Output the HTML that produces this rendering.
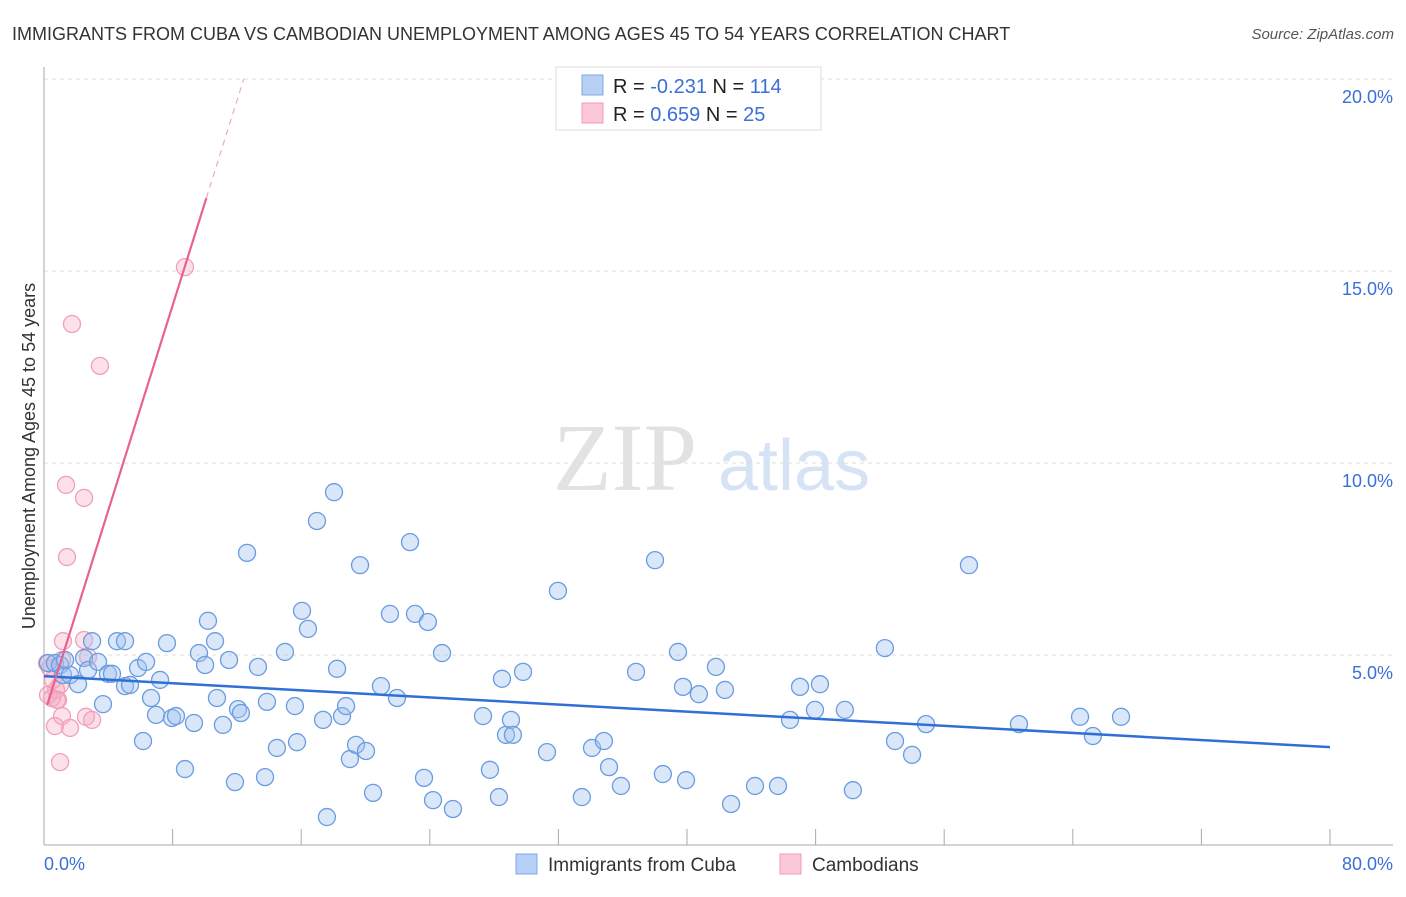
<!DOCTYPE html>
<html><head><meta charset="utf-8">
<style>
body{margin:0;background:#fff;font-family:"Liberation Sans",sans-serif;}
svg text{font-family:"Liberation Sans",sans-serif;}
</style></head>
<body>
<svg id="chart" width="1406" height="892" viewBox="0 0 1406 892" xmlns="http://www.w3.org/2000/svg">
<text x="12" y="40" font-size="18" fill="#333">IMMIGRANTS FROM CUBA VS CAMBODIAN UNEMPLOYMENT AMONG AGES 45 TO 54 YEARS CORRELATION CHART</text>
<text x="1394" y="39" font-size="15" fill="#555" font-style="italic" text-anchor="end">Source: ZipAtlas.com</text>
<g>
<text x="553" y="490" font-size="96" fill="#e2e2e2" font-family="Liberation Serif" style="font-family:'Liberation Serif',serif">ZIP</text>
<text x="718" y="490" font-size="72" fill="#d6e3f5">atlas</text>
</g>
<g id="grid"></g>
<g id="axes"></g>
<g id="pinkpts"></g>
<g id="bluepts"></g>
<g id="lines"></g>
<text transform="translate(35,456) rotate(-90)" font-size="18" fill="#333" text-anchor="middle">Unemployment Among Ages 45 to 54 years</text>
<g>
<rect x="556" y="67" width="265" height="63" fill="#fff" stroke="#ddd"/>
<rect x="582" y="75" width="21" height="20" fill="#b7d1f5" stroke="#7fa8e6"/>
<rect x="582" y="103" width="21" height="20" fill="#fbc8d8" stroke="#f09ab6"/>
<text x="613" y="93" font-size="20" fill="#222">R = <tspan fill="#3a6fd8">-0.231</tspan>   N = <tspan fill="#3a6fd8">114</tspan></text>
<text x="613" y="121" font-size="20" fill="#222">R =  <tspan fill="#3a6fd8">0.659</tspan>   N =  <tspan fill="#3a6fd8">25</tspan></text>
</g>
<g>
<rect x="516" y="854" width="21" height="20" fill="#b7d1f5" stroke="#7fa8e6"/>
<text x="548" y="871" font-size="19" fill="#333">Immigrants from Cuba</text>
<rect x="780" y="854" width="21" height="20" fill="#fbc8d8" stroke="#f09ab6"/>
<text x="812" y="871" font-size="19" fill="#333">Cambodians</text>
</g>
</svg>
<script>
const xTicks=[0,8,16,24,32,40,48,56,64,72,80];
const yTicks=[5,10,15,20];
const yTickLabels=["5.0%","10.0%","15.0%","20.0%"];
const xEndLabels=["0.0%","80.0%"];
const cubaX=[0.25,0.68,1.0,1.18,1.62,1.31,2.12,2.49,2.74,2.99,3.36,3.67,3.98,4.23,4.54,5.04,5.04,5.35,5.85,6.16,6.35,6.66,6.97,7.22,7.65,7.96,8.21,8.77,9.33,9.64,10.02,10.2,10.64,10.76,11.13,11.51,11.88,12.07,12.25,12.63,13.31,13.75,13.87,14.49,14.99,15.61,15.74,16.05,16.42,16.98,17.36,17.6,18.04,18.23,18.54,18.79,19.03,19.41,19.66,20.03,20.47,20.96,21.52,21.96,22.77,23.08,23.64,23.88,24.2,24.76,25.44,27.31,27.74,28.3,28.49,28.74,29.05,29.17,29.8,31.29,31.97,33.46,34.09,34.83,35.15,35.89,36.83,38.01,38.5,39.44,39.75,39.94,40.74,41.8,42.36,42.74,44.23,45.66,46.41,47.03,47.96,48.27,49.82,50.32,52.31,52.94,54.0,54.87,57.54,60.65,64.45,65.25,67.0];
const cubaY=[4.79,4.79,4.74,4.48,4.48,4.87,4.24,4.92,4.61,5.36,4.82,3.72,4.51,4.51,5.36,5.36,4.19,4.22,4.66,2.76,4.82,3.88,3.44,4.35,5.31,3.36,3.41,2.03,3.23,5.05,4.74,5.89,5.36,3.88,3.18,4.87,1.69,3.59,3.49,7.66,4.69,1.82,3.78,2.58,5.08,3.67,2.73,6.15,5.68,8.49,3.31,0.78,9.24,4.64,3.41,3.67,2.29,2.66,7.34,2.5,1.41,4.19,6.07,3.88,7.94,6.07,1.8,5.86,1.22,5.05,0.99,3.41,2.01,1.3,4.38,2.92,3.31,2.92,4.56,2.47,6.67,1.3,2.58,2.76,2.08,1.59,4.56,7.47,1.9,5.08,4.17,1.74,3.98,4.69,4.09,1.12,1.59,1.59,3.31,4.17,3.57,4.24,3.57,1.48,5.18,2.76,2.4,3.2,7.34,3.2,3.39,2.89,3.39];
const cambX=[0.19,0.37,0.5,0.75,0.87,1.0,0.68,1.18,1.12,1.37,1.43,1.74,1.62,1.0,2.49,2.49,2.74,2.61,2.99,3.48,8.77,0.25,0.56,0.81,1.12];
const cambY=[4.79,4.66,3.88,4.09,3.83,4.22,3.15,5.36,3.41,9.43,7.55,13.62,3.1,2.21,9.09,5.39,4.95,3.39,3.31,12.53,15.1,3.96,4.35,3.83,4.87];
const cubaTrend=[4.45,2.6];
const cambTrend=[3.7,16.9];

const NS="http://www.w3.org/2000/svg";
const X0=44,X1=1330,Y0=847,Y20=79;
const sx=v=>X0+(v/80)*(X1-X0);
const sy=v=>Y0-(v/20)*(Y0-Y20);
function mk(tag,attrs,parent){const e=document.createElementNS(NS,tag);for(const k in attrs)e.setAttribute(k,attrs[k]);parent.appendChild(e);return e;}
const grid=document.getElementById('grid'),axes=document.getElementById('axes');
yTicks.forEach((t,i)=>{
  const l=mk('line',{x1:44,x2:1393,y1:sy(t),y2:sy(t),stroke:'#ddd','stroke-dasharray':'4,4'},grid);
  
  
  const tx=mk('text',{x:1393,y:sy(t)+24,'font-size':18,fill:'#3a6fd8','text-anchor':'end'},axes);
  tx.textContent=yTickLabels[i];
  
  
});
const ya=mk('line',{x1:44,x2:44,y1:67,y2:845,stroke:'#aaa'},axes);


const xa=mk('line',{x1:44,x2:1393,y1:845,y2:845,stroke:'#aaa'},axes);


xTicks.forEach(t=>{
  const l=mk('line',{x1:sx(t),x2:sx(t),y1:829,y2:845,stroke:'#aaa'},axes);
  
  
});
const xl0=mk('text',{x:44,y:870,'font-size':18,fill:'#3a6fd8'},axes);xl0.textContent=xEndLabels[0];


const xl1=mk('text',{x:1393,y:870,'font-size':18,fill:'#3a6fd8','text-anchor':'end'},axes);xl1.textContent=xEndLabels[1];


const pg=document.getElementById('pinkpts');
cambX.forEach((v,i)=>{
  const c=mk('circle',{cx:sx(v),cy:sy(cambY[i]),r:8.5,fill:'rgba(246,170,196,0.35)',stroke:'#f0a0bb','stroke-width':1.3},pg);
  
  
});
const bg=document.getElementById('bluepts');
cubaX.forEach((v,i)=>{
  const c=mk('circle',{cx:sx(v),cy:sy(cubaY[i]),r:8.5,fill:'rgba(160,196,240,0.4)',stroke:'#6a9ce0','stroke-width':1.3},bg);
  
  
});
const lg=document.getElementById('lines');
const bl=mk('line',{x1:sx(0),y1:sy(cubaTrend[0]),x2:sx(80),y2:sy(cubaTrend[1]),stroke:'#2f6fd6','stroke-width':2.5},lg);


const pxa=0.2,pxb=10.1,slope=(cambTrend[1]-cambTrend[0])/(pxb-pxa);
const pl=mk('line',{x1:sx(pxa),y1:sy(cambTrend[0]),x2:sx(pxb),y2:sy(cambTrend[1]),stroke:'#e8628f','stroke-width':2.2},lg);


const xEnd=pxb+(20-cambTrend[1])/slope;
const pd=mk('line',{x1:sx(pxb),y1:sy(cambTrend[1]),x2:sx(xEnd),y2:sy(20),stroke:'#eeaac0','stroke-width':1.2,'stroke-dasharray':'6,5'},lg);


</script>
</body></html>
